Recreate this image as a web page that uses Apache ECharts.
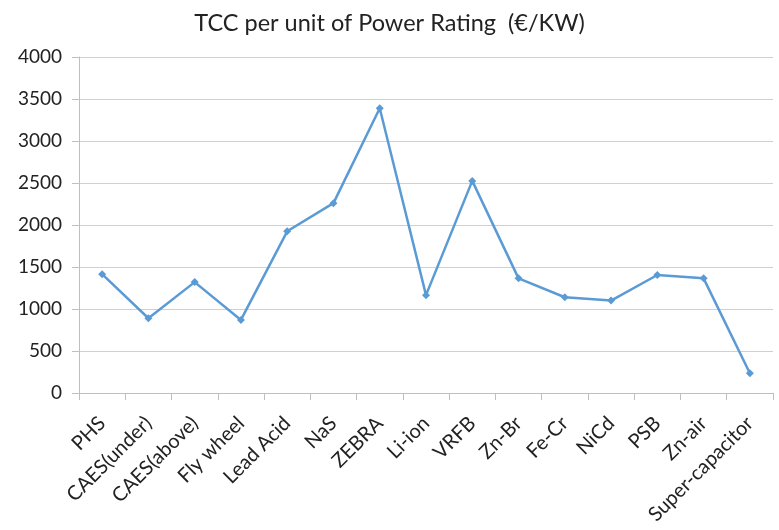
<!DOCTYPE html>
<html>
<head>
<meta charset="utf-8">
<script src="https://cdn.jsdelivr.net/npm/echarts@6/dist/echarts.min.js"></script>
<style>
  html, body { margin: 0; padding: 0; background: #fff; }
  #chart { width: 779px; height: 530px; }
</style>
</head>
<body>
<div id="chart"></div>
<script>
// 储能技术类别
const categories = ['PHS', 'CAES(under)', 'CAES(above)', 'Fly wheel', 'Lead Acid', 'NaS', 'ZEBRA',
  'Li-ion', 'VRFB', 'Zn-Br', 'Fe-Cr', 'NiCd', 'PSB', 'Zn-air', 'Super-capacitor']
// 单位功率 TCC (€/KW)
const tccValues = [1415, 890, 1320, 870, 1925, 2260, 3390, 1165, 2525, 1365, 1140, 1100, 1405, 1365, 235]
const yTicks = { min: 0, max: 4000, interval: 500 }

const chart = echarts.init(document.getElementById('chart'))
const font = 'Lato, "Open Sans", sans-serif'

const option = {
  animation: false,
  title: {
    text: 'TCC per unit of Power Rating  (€/KW)',
    left: 'center',
    top: 6,
    textStyle: { fontFamily: font, fontSize: 23.5, fontWeight: 'normal', color: '#222' }
  },
  grid: { left: 79, right: 6, top: 57, bottom: 137 },
  xAxis: {
    type: 'category',
    data: categories,
    boundaryGap: true,
    axisLine: { lineStyle: { color: '#bfbfbf' } },
    axisTick: { show: true, length: 7, lineStyle: { color: '#bfbfbf' } },
    axisLabel: { rotate: 45, margin: 27, interval: 0, color: '#222', fontFamily: font, fontSize: 20 }
  },
  yAxis: {
    type: 'value',
    min: yTicks.min,
    max: yTicks.max,
    interval: yTicks.interval,
    axisLine: { show: true, lineStyle: { color: '#bfbfbf' } },
    axisTick: { show: true, length: 7, lineStyle: { color: '#bfbfbf' } },
    axisLabel: { margin: 17, color: '#222', fontFamily: font, fontSize: 19, formatter: v => String(v) },
    splitLine: { lineStyle: { color: '#d0d0d0' } }
  },
  series: [
    {
      type: 'line',
      data: tccValues,
      symbol: 'diamond',
      symbolSize: 8,
      lineStyle: { color: '#5b9bd5', width: 2.5 },
      itemStyle: { color: '#5b9bd5' }
    }
  ]
}
chart.setOption(option)
</script>
</body>
</html>
